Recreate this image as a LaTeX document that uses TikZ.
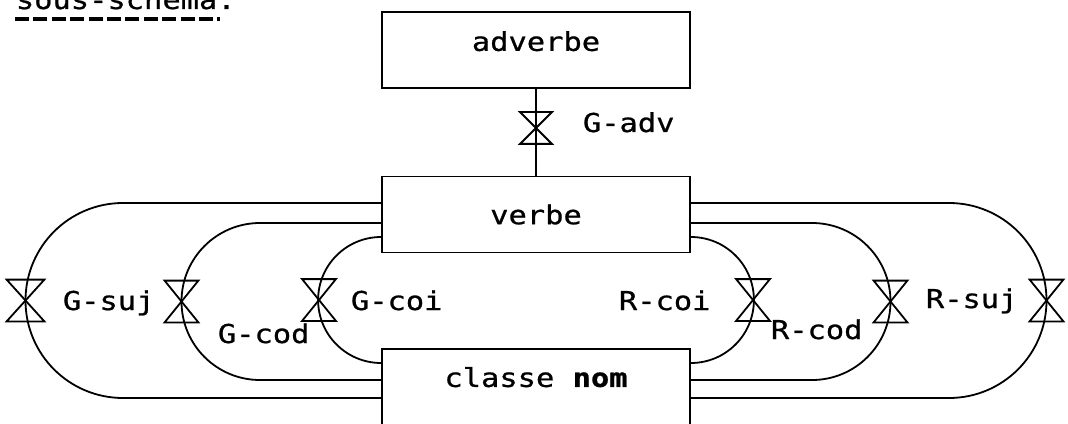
\documentclass[tikz,border=0pt]{standalone}
\usepackage{fontspec}
\usepackage{tikz}
\newfontfamily\typefont{DejaVu Sans Mono}[FakeStretch=1.17, FakeBold=0.8]

\tikzset{
  typed/.style={font=\typefont\fontsize{13pt}{15pt}\selectfont},
  wordbox/.style={typed, draw, minimum width=154pt, minimum height=38pt, inner sep=0pt},
  lbl/.style={typed, inner sep=0pt, anchor=base west},
  valve/.style={minimum width=16pt, minimum height=20pt, inner sep=0pt},
}

\begin{document}
\begin{tikzpicture}[x=0.5pt, y=0.5pt, line width=0.9pt]
\useasboundingbox (0,0) rectangle (1068,423);
% titre
\node[lbl] (title) at (15,414) {sous-schema.};
\draw[line width=2pt, dash pattern=on 7pt off 2.2pt] ([yshift=-5pt]title.base west) -- ++(205,0);
% boites
\node[wordbox, text depth=9pt] (adv) at (536,373) {adverbe};
\node[wordbox] (verbe) at (536,208.5) {verbe};
\node[wordbox, anchor=north, minimum height=0pt, text height=19pt, text depth=24pt] (nom) at (536,75) {classe \textbf{nom}};
% vannes
\node[valve, minimum width=15pt, minimum height=15pt] (vadv) at (536,295) {};
\node[valve, minimum width=18pt] (vgsuj) at (25.5,122.5) {};
\node[valve] (vgcod) at (181.5,121.5) {};
\node[valve] (vgcoi) at (319,123) {};
\node[valve] (vrcoi) at (753,123) {};
\node[valve] (vrcod) at (890.5,121.5) {};
\node[valve] (vrsuj) at (1046.5,122.5) {};
% liaisons
\draw (adv.south) -- (verbe.north);
\draw (verbe.west |- 0,220) -- (123,220) arc[start angle=90, end angle=270, radius=97.5] -- (nom.west |- 0,25);
\draw (verbe.west |- 0,200) -- (260,200) arc[start angle=90, end angle=270, radius=78.5] -- (nom.west |- 0,43);
\draw (verbe.west |- 0,186) arc[start angle=90, end angle=270, radius=63];
\draw (verbe.east |- 0,220) -- (949,220) arc[start angle=90, end angle=-90, radius=97.5] -- (nom.east |- 0,25);
\draw (verbe.east |- 0,200) -- (812,200) arc[start angle=90, end angle=-90, radius=78.5] -- (nom.east |- 0,43);
\draw (verbe.east |- 0,186) arc[start angle=90, end angle=-90, radius=63];
\foreach \v in {vadv,vgsuj,vgcod,vgcoi,vrcoi,vrcod,vrsuj}
  \draw (\v.north west) -- (\v.north east) -- (\v.south west) -- (\v.south east) -- cycle;
% etiquettes
\node[lbl] (ladv) at (582,291) {G-adv};
\node[lbl] (lgsuj) at (62,113) {G-suj};
\node[lbl] (lgcod) at (217,80) {G-cod};
\node[lbl] (lgcoi) at (350,113) {G-coi};
\node[lbl] (lrcoi) at (618,113) {R-coi};
\node[lbl] (lrcod) at (770,84) {R-cod};
\node[lbl] (lrsuj) at (925,115) {R-suj};
\end{tikzpicture}
\end{document}
